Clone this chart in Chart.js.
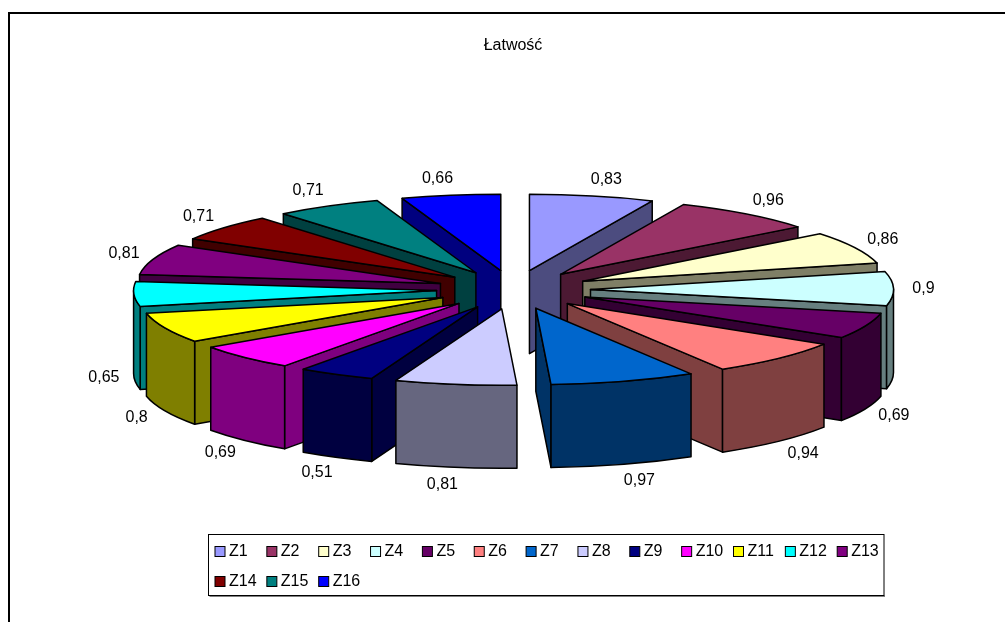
<!DOCTYPE html>
<html>
<head>
<meta charset="utf-8">
<title>Łatwość</title>
<script src="https://cdn.jsdelivr.net/npm/chart.js@4"></script>
<style>
    html, body { margin: 0; padding: 0; background: #fff; overflow: hidden; }
    #frame { position: absolute; left: 8px; top: 12px; right: 0; bottom: 0; border-left: 2px solid #000; border-top: 2px solid #000; }
    #chart { position: absolute; left: 0; top: 0; }
</style>
</head>
<body>
<div id="frame"></div>
<canvas id="chart" width="1005" height="622"></canvas>
<script>
const categories = ['Z1', 'Z2', 'Z3', 'Z4', 'Z5', 'Z6', 'Z7', 'Z8', 'Z9', 'Z10', 'Z11', 'Z12', 'Z13', 'Z14', 'Z15', 'Z16'];
const values = [0.83, 0.96, 0.86, 0.9, 0.69, 0.94, 0.97, 0.81, 0.51, 0.69, 0.8, 0.65, 0.81, 0.71, 0.71, 0.66];
const colors = ['#9999ff', '#993366', '#ffffcc', '#ccffff', '#660066', '#ff8080', '#0066cc', '#ccccff',
    '#000080', '#ff00ff', '#ffff00', '#00ffff', '#800080', '#800000', '#008080', '#0000ff'];

// 3D look of the pie
const pie = { cx: 513.5, cy: 289.7, radius: 303, squash: 0.252, depth: 83, explode: 77 };
const labelFont = '16px "Liberation Sans", Arial, sans-serif';

function darker(hex) {
    const n = parseInt(hex.slice(1), 16);
    return `rgb(${(n >> 16) >> 1}, ${((n >> 8) & 255) >> 1}, ${(n & 255) >> 1})`;
}

// Draws the exploded slices back to front, the top face with the arc element itself
const pie3d = {
    id: 'pie3d',
    beforeDatasetDraw(chart, args) {
        const ctx = chart.ctx;
        const arcs = chart.getDatasetMeta(args.index).data;
        const ry = pie.radius * pie.squash;

        const order = arcs.map((arc, i) => i).sort((a, b) => {
            const midA = (arcs[a].startAngle + arcs[a].endAngle) / 2;
            const midB = (arcs[b].startAngle + arcs[b].endAngle) / 2;
            return Math.sin(midA) - Math.sin(midB);
        });

        ctx.save();
        ctx.lineWidth = 1.5;
        ctx.lineJoin = 'round';
        ctx.strokeStyle = '#000';

        order.forEach(i => {
            const arc = arcs[i];
            const start = arc.startAngle;
            const end = arc.endAngle;
            const mid = (start + end) / 2;
            const x = pie.cx + Math.cos(mid) * pie.explode;
            const y = pie.cy + Math.sin(mid) * pie.explode * pie.squash;
            const side = darker(colors[i]);

            // radial walls facing the viewer
            const wall = angle => {
                const rimX = x + Math.cos(angle) * pie.radius;
                const rimY = y + Math.sin(angle) * ry;
                ctx.beginPath();
                ctx.moveTo(x, y);
                ctx.lineTo(rimX, rimY);
                ctx.lineTo(rimX, rimY + pie.depth);
                ctx.lineTo(x, y + pie.depth);
                ctx.closePath();
                ctx.fillStyle = side;
                ctx.fill();
                ctx.stroke();
            };
            if (Math.cos(start) < 0) wall(start);
            if (Math.cos(end) > 0) wall(end);

            // curved outer side, only the front half can be seen
            const from = Math.max(start, 0);
            const to = Math.min(end, Math.PI);
            if (to > from) {
                ctx.beginPath();
                ctx.ellipse(x, y, pie.radius, ry, 0, from, to);
                ctx.ellipse(x, y + pie.depth, pie.radius, ry, 0, to, from, true);
                ctx.closePath();
                ctx.fillStyle = side;
                ctx.fill();
                ctx.stroke();
            }

            // top face
            ctx.save();
            ctx.translate(x, y);
            ctx.scale(pie.radius / arc.outerRadius, ry / arc.outerRadius);
            ctx.translate(-arc.x, -arc.y);
            arc.draw(ctx);
            ctx.restore();

            ctx.beginPath();
            ctx.moveTo(x, y);
            ctx.ellipse(x, y, pie.radius, ry, 0, start, end);
            ctx.closePath();
            ctx.stroke();
        });

        // value labels outside the rim
        ctx.fillStyle = '#000';
        ctx.font = labelFont;
        ctx.textAlign = 'center';
        ctx.textBaseline = 'middle';
        arcs.forEach((arc, i) => {
            const mid = (arc.startAngle + arc.endAngle) / 2;
            const below = Math.sin(mid) > 0 ? pie.depth : 0;
            const lx = pie.cx + Math.cos(mid) * 400 + Math.sign(Math.cos(mid)) * 10;
            const ly = pie.cy + Math.sin(mid) * 113 + below;
            ctx.fillText(String(values[i]).replace('.', ','), lx, ly);
        });
        ctx.restore();
        return false;
    },
    // Excel style legend: fixed columns inside a box
    afterDraw(chart) {
        const ctx = chart.ctx;
        const perRow = 13;
        const left = 208.5, top = 534.5, width = 675.5, height = 61;
        ctx.save();
        ctx.fillStyle = '#808080';
        ctx.fillRect(left + 1, top + height, width, 1.5);
        ctx.strokeStyle = '#000';
        ctx.lineWidth = 1;
        ctx.strokeRect(left, top, width, height);
        ctx.font = labelFont;
        ctx.textBaseline = 'middle';
        categories.forEach((name, i) => {
            const col = i % perRow;
            const row = Math.floor(i / perRow);
            const x = 215 + col * 51.85;
            const y = 551.5 + row * 30;
            ctx.fillStyle = colors[i];
            ctx.fillRect(x, y - 5, 10, 10);
            ctx.strokeRect(x, y - 5, 10, 10);
            ctx.fillStyle = '#000';
            ctx.fillText(name, x + 14, y);
        });
        ctx.restore();
    }
};

new Chart(document.getElementById('chart').getContext('2d'), {
    type: 'pie',
    data: {
        labels: categories,
        datasets: [{
            data: values,
            backgroundColor: colors,
            borderWidth: 0,
        }],
    },
    options: {
        responsive: false,
        animation: false,
        layout: { padding: { left: 21 } },
        plugins: {
            legend: { display: false },
            tooltip: { enabled: false },
            title: {
                display: true,
                text: 'Łatwość',
                color: '#000',
                font: { family: '"Liberation Sans", Arial, sans-serif', size: 16, weight: 'normal' },
                padding: { top: 36, bottom: 10 },
            },
        },
    },
    plugins: [pie3d],
});
</script>
</body>
</html>
